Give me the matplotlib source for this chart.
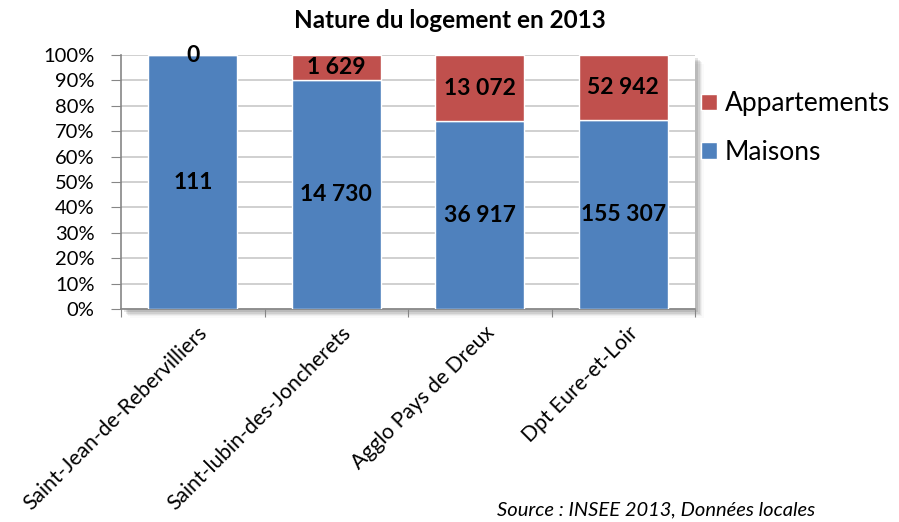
import matplotlib
matplotlib.use('Agg')
import matplotlib.pyplot as plt
import matplotlib.patches as mpatches
import matplotlib.transforms as mtransforms
import numpy as np

plt.rcParams['font.family'] = ['Lato', 'DejaVu Sans']

categories = ['Saint-Jean-de-Rebervilliers', 'Saint-lubin-des-Joncherets',
              'Agglo Pays de Dreux', 'Dpt Eure-et-Loir']
maisons = [111, 14730, 36917, 155307]
appartements = [0, 1629, 13072, 52942]
maisons_lbl = ['111', '14 730', '36 917', '155 307']
appart_lbl = ['0', '1 629', '13 072', '52 942']

blue = '#4F81BD'
red = '#C0504D'

tot = np.array(maisons) + np.array(appartements)
p_m = np.array(maisons) / tot * 100
p_a = np.array(appartements) / tot * 100

fig = plt.figure(figsize=(8.99, 5.22), dpi=100)
ax = fig.add_axes([0.1346, 0.408, 0.6385, 0.4866])

# ombre portée du cadre (en pixels)
px = mtransforms.Affine2D().scale(1 / 899, 1 / 522) + fig.transFigure
for k, a in enumerate([0.10, 0.08, 0.06, 0.04, 0.02]):
    off = (k + 1) * 1.3
    sh = mpatches.Rectangle((121 + off + 2, 522 - 309 - off - 2), 695 - 121, 309 - 55,
                            transform=px, facecolor='black', alpha=a,
                            edgecolor='none', zorder=-10)
    fig.patches.append(sh)
bg = mpatches.Rectangle((121, 522 - 309), 695 - 121, 309 - 55, transform=px,
                        facecolor='white', edgecolor='none', zorder=-5)
fig.patches.append(bg)
ax.set_facecolor('none')

x = np.arange(len(categories))
w = 0.62
ax.bar(x, p_m, w, color=blue, edgecolor='white', linewidth=1, label='Maisons', zorder=3)
ax.bar(x, p_a, w, bottom=p_m, color=red, edgecolor='white', linewidth=1, label='Appartements', zorder=3)

for i in range(len(x)):
    ax.text(x[i], p_m[i] / 2, maisons_lbl[i], ha='center', va='center',
            fontsize=16.5, fontweight='bold', zorder=5)
    ax.text(x[i], p_m[i] + p_a[i] / 2, appart_lbl[i], ha='center', va='center',
            fontsize=16.5, fontweight='bold', zorder=5)

ax.set_xlim(-0.5, 3.5)
ax.set_ylim(0, 100)
ax.set_yticks(np.arange(0, 101, 10))
ax.set_yticklabels([f'{v}%' for v in range(0, 101, 10)], fontsize=14.5)
ax.yaxis.grid(True, color='#c8c8c8', linewidth=1.2, zorder=0)
ax.set_axisbelow(True)

ax.set_xticks(np.arange(-0.5, 3.6, 1))
ax.set_xticklabels([])
ax.set_xticks(x, minor=True)
ax.set_xticklabels(categories, minor=True, rotation=45, ha='right',
                   rotation_mode='anchor', fontsize=15.2)
ax.tick_params(axis='x', which='minor', length=0, pad=10)
ax.tick_params(axis='x', which='major', length=6, color='#868686', direction='out')
ax.tick_params(axis='y', length=7, color='#868686', direction='out', pad=12)
for lbl in ax.get_xticklabels(minor=True):
    lbl.set_transform(lbl.get_transform() + mtransforms.ScaledTranslation(4 / 100, 0, fig.dpi_scale_trans))

for s in ['top', 'right']:
    ax.spines[s].set_visible(False)
for s in ['left', 'bottom']:
    ax.spines[s].set_color('#868686')
    ax.spines[s].set_linewidth(1.2)

fig.text(0.5, 1 - 20 / 522, 'Nature du logement en 2013', fontsize=17.5,
         fontweight='bold', ha='center', va='center')

h, l = ax.get_legend_handles_labels()
ax.legend(h[::-1], l[::-1], loc='upper left', bbox_to_anchor=(0.978, 0.93),
          frameon=False, fontsize=19, handlelength=0.6, handleheight=0.6,
          handletextpad=0.3, labelspacing=0.9, borderaxespad=0.3)

fig.text(497 / 899, 1 - 518 / 522, 'Source : INSEE 2013, Données locales',
         fontsize=14.5, style='italic', va='bottom', ha='left')

fig.savefig('out.png', dpi=100)
